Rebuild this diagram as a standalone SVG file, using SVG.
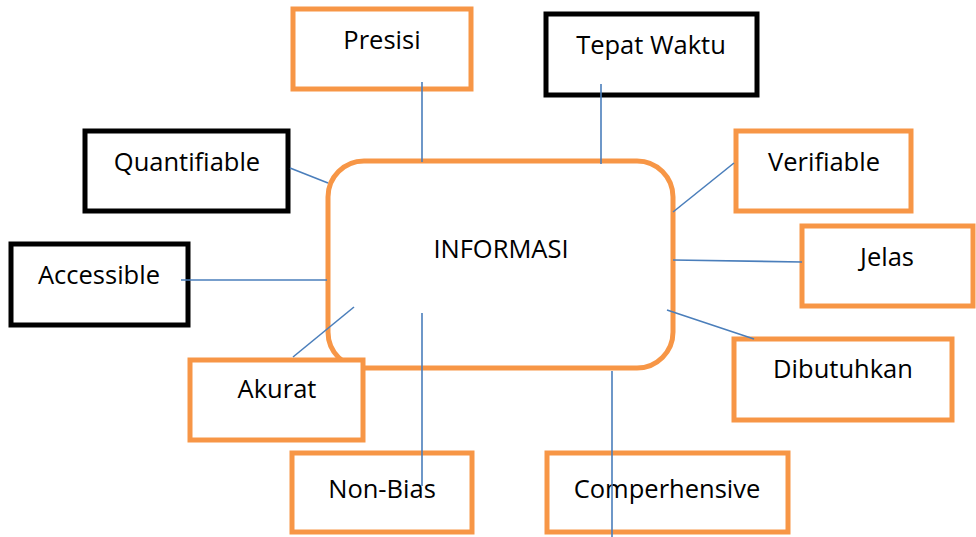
<svg xmlns="http://www.w3.org/2000/svg" width="976" height="537" viewBox="0 0 976 537">
<style>
.o{fill:#fff;stroke:#F79646;stroke-width:5}
.k{fill:#fff;stroke:#000;stroke-width:5}
text{font-family:"Open Sans","Liberation Sans",sans-serif;font-size:25.5px;fill:#000;text-anchor:middle}
.c line{stroke:#4A7EBB;stroke-width:1.6}
</style>
<rect width="976" height="537" fill="#fff"/>
<g id="n-presisi"><rect class="o" x="293" y="9" width="178" height="80"/><text x="382" y="49">Presisi</text></g>
<g id="n-tepat"><rect class="k" x="546" y="14" width="211" height="81"/><text x="651" y="54">Tepat Waktu</text></g>
<g id="n-quant"><rect class="k" x="85" y="131" width="203" height="80"/><text x="187" y="171">Quantifiable</text></g>
<g id="n-access"><rect class="k" x="11" y="244" width="177" height="81"/><text x="99" y="284">Accessible</text></g>
<g id="n-verif"><rect class="o" x="736" y="131" width="175" height="80"/><text x="824" y="171">Verifiable</text></g>
<g id="n-jelas"><rect class="o" x="802" y="226" width="171" height="80"/><text x="887" y="266">Jelas</text></g>
<g id="n-dibut"><rect class="o" x="734" y="339" width="218" height="81"/><text x="843" y="378">Dibutuhkan</text></g>
<g id="n-info"><rect class="o" x="328" y="161" width="345" height="207" rx="36" ry="36"/><text x="501" y="258">INFORMASI</text></g>
<g id="n-akurat"><rect class="o" x="190" y="360" width="173" height="80"/><text x="277" y="398">Akurat</text></g>
<g id="n-nonbias"><rect class="o" x="292" y="453" width="180" height="79"/><text x="382" y="498">Non-Bias</text></g>
<g id="n-comp"><rect class="o" x="547" y="453" width="241" height="79"/><text x="667" y="498">Comperhensive</text></g>
<g id="connectors" class="c">
<line x1="422" y1="82" x2="422" y2="162"/>
<line x1="601" y1="84" x2="601" y2="164"/>
<line x1="290" y1="168" x2="328" y2="183"/>
<line x1="181" y1="280" x2="327" y2="280"/>
<line x1="293" y1="357" x2="354" y2="307"/>
<line x1="673" y1="212" x2="734" y2="163"/>
<line x1="673" y1="260" x2="802" y2="262"/>
<line x1="667" y1="310" x2="754" y2="339"/>
<line x1="422" y1="313" x2="422" y2="486"/>
<line x1="612" y1="371" x2="612" y2="537"/>
</g>
</svg>
